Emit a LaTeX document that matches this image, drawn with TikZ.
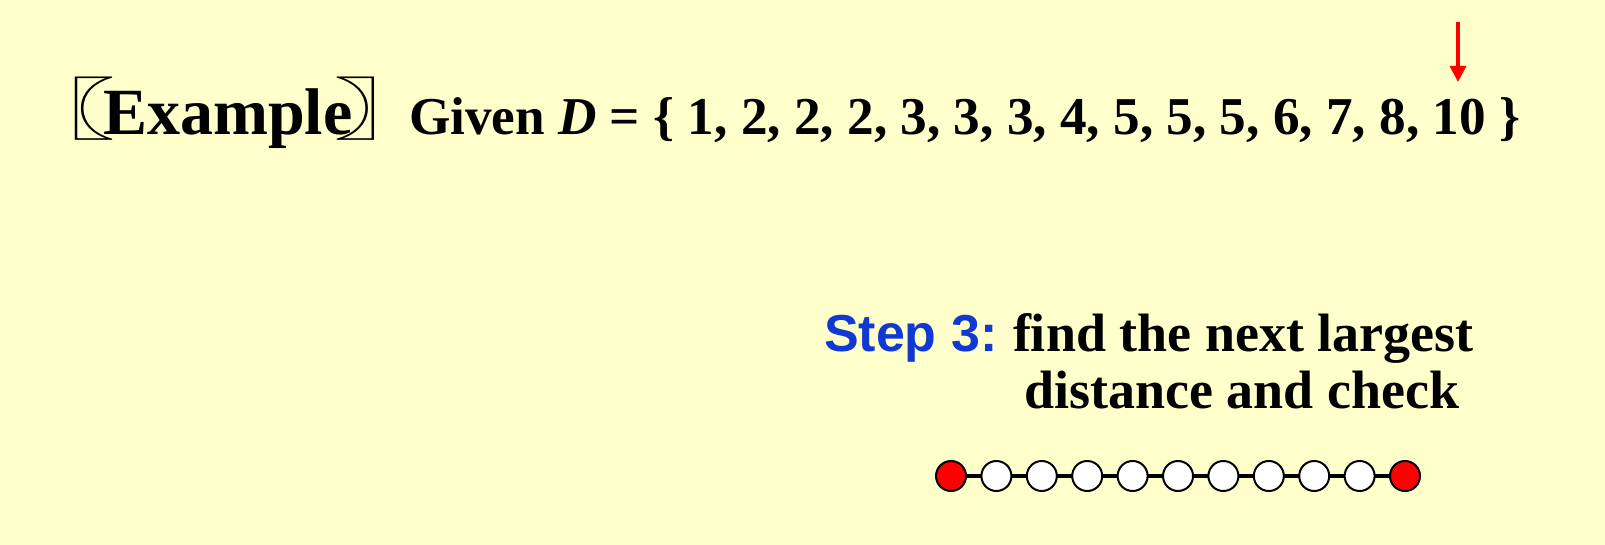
\documentclass[tikz,border=0pt]{standalone}
\usepackage{fontspec}
\setmainfont{Liberation Serif}
\newfontfamily\arialfont{Liberation Sans}
\newfontfamily\cjkfont{Noto Sans CJK SC}
\usetikzlibrary{arrows.meta}
\definecolor{bgyellow}{RGB}{255,255,204}
\definecolor{stepblue}{RGB}{16,56,210}
\definecolor{dotred}{RGB}{255,0,0}
\tikzset{
  txt/.style={anchor=base west, inner sep=0pt, outer sep=0pt},
  brk/.style={txt, font=\cjkfont\fontsize{34}{40}\selectfont},
  dot/.style={circle, draw=black, line width=1pt, minimum size=15pt, inner sep=0pt},
  enddot/.style={dot, fill=dotred},
  middot/.style={dot, fill=white},
  chain/.style={line width=1.7pt, draw=black},
  pointer/.style={draw=dotred, line width=1.6pt, -{Triangle[width=8pt,length=8pt]}}
}
\begin{document}
\begin{tikzpicture}[x=0.5pt,y=-0.5pt]
\fill[bgyellow] (0,0) rectangle (1605,545);
\useasboundingbox (0,0) rectangle (1605,545);
\node[brk] (lbr) at (8,135) {\scalebox{1.6}[1]{〖}};
\node[txt, font=\bfseries\fontsize{33}{38}\selectfont] (ex) at (103,135) {Example};
\node[brk] (rbr) at (333,135) {\scalebox{1.6}[1]{〗}};
\node[txt, font=\bfseries\fontsize{26.6}{30}\selectfont] (given) at (409,135) {Given \textit{D} = \{ 1, 2, 2, 2, 3, 3, 3, 4, 5, 5, 5, 6, 7, 8, 10 \}};
\coordinate (atop) at (1458,22);
\coordinate (atip) at (1458,82);
\draw[pointer] (atop) -- (atip);
\node[txt, font=\arialfont\bfseries\fontsize{26}{30}\selectfont, text=stepblue] (step) at (824,351) {Step 3:};
\node[txt, font=\bfseries\fontsize{27}{30}\selectfont] (l1) at (1013,351) {find the next largest};
\node[txt, font=\bfseries\fontsize{27}{30}\selectfont] (l2) at (1024,408) {distance and check};
\foreach \i in {0,...,10} {
  \coordinate (c\i) at ({951+45.4*\i},476);
}
\draw[chain] (c0) -- (c10);
\node[enddot] (p0) at (c0) {};
\foreach \i in {1,...,9} {
  \node[middot] (p\i) at (c\i) {};
}
\node[enddot] (p10) at (c10) {};
\end{tikzpicture}
\end{document}
